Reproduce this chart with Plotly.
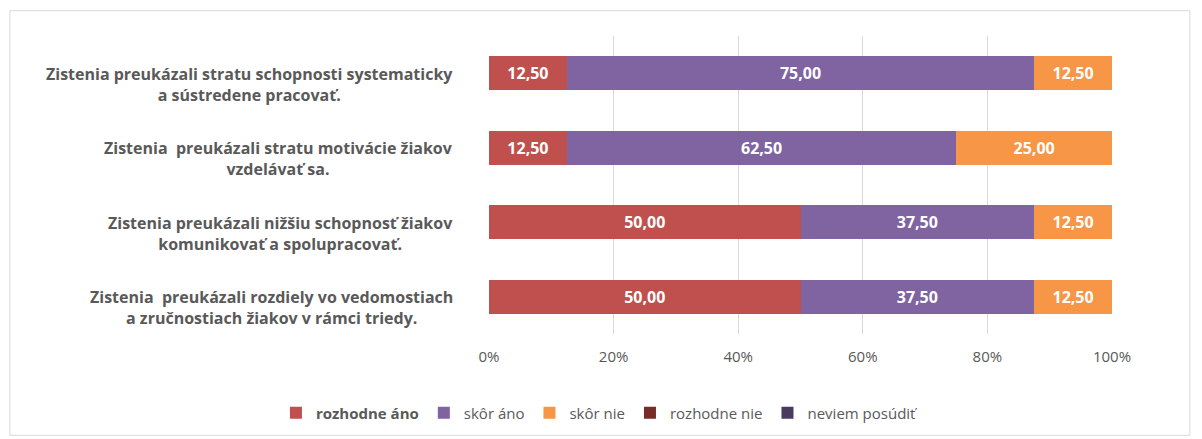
import plotly.graph_objects as go

categories = [
    "Zistenia preukázali stratu schopnosti systematicky<br>a sústredene pracovať.",
    "Zistenia  preukázali stratu motivácie žiakov<br>vzdelávať sa.",
    "Zistenia preukázali nižšiu schopnosť žiakov<br>komunikovať a spolupracovať.",
    "Zistenia  preukázali rozdiely vo vedomostiach<br>a zručnostiach žiakov v rámci triedy.",
]
cat_ids = ["c1", "c2", "c3", "c4"]

series_names = ["rozhodne áno", "skôr áno", "skôr nie", "rozhodne nie", "neviem posúdiť"]
rozhodne_ano = [12.5, 12.5, 50.0, 50.0]
skor_ano = [75.0, 62.5, 37.5, 37.5]
skor_nie = [12.5, 25.0, 12.5, 12.5]
rozhodne_nie = [0, 0, 0, 0]
neviem = [0, 0, 0, 0]
series_values = [rozhodne_ano, skor_ano, skor_nie, rozhodne_nie, neviem]
colors = ["#C0504D", "#8064A2", "#F79646", "#772C2A", "#4A3A5E"]
tick_vals = [0, 20, 40, 60, 80, 100]
tick_text = ["0%", "20%", "40%", "60%", "80%", "100%"]

FONT = "Open Sans"

fig = go.Figure()
for name, vals, col in zip(series_names, series_values, colors):
    label = f"<b>{name}</b>" if name == "rozhodne áno" else name
    fig.add_trace(go.Bar(
        y=cat_ids, x=vals, orientation="h", name=label,
        marker=dict(color=col, line=dict(width=0)),
        text=[(f"{v:.2f}".replace(".", ",") if v > 0 else "") for v in vals],
        textposition="inside", insidetextanchor="middle",
        textfont=dict(color="white", size=16, family=FONT, weight="bold"),
        hoverinfo="skip",
    ))

for cid, cat in zip(cat_ids, categories):
    fig.add_annotation(
        x=-0.055, xref="paper", y=cid, yref="y", text=f"<b>{cat}</b>",
        xanchor="right", align="center", showarrow=False, yshift=-11,
        font=dict(family=FONT, size=16, color="#595959"),
    )

fig.update_layout(
    barmode="stack", bargap=0.54,
    width=1202, height=439,
    margin=dict(l=481, r=98, t=28, b=113),
    paper_bgcolor="white", plot_bgcolor="white",
    font=dict(family=FONT, color="#595959"),
    showlegend=True,
    legend=dict(orientation="h", x=-0.342, xanchor="left",
                y=-0.265, yanchor="middle",
                font=dict(size=15, color="#595959"), traceorder="normal",
                itemwidth=30),
    xaxis=dict(range=[0, 100], tickvals=tick_vals, ticktext=tick_text,
               showgrid=True, gridcolor="#D9D9D9", gridwidth=1, zeroline=False,
               tickfont=dict(size=15, color="#595959"), ticklabelstandoff=12,
               showline=False),
    yaxis=dict(autorange="reversed", showticklabels=False, showgrid=False,
               zeroline=False, showline=False),
    shapes=[dict(type="rect", xref="paper", yref="paper", x0=-0.769, x1=1.125,
                 y0=-0.34, y1=1.085, line=dict(color="#D9D9D9", width=1),
                 fillcolor="rgba(0,0,0,0)", layer="below")],
)

fig.write_html("out.html")
